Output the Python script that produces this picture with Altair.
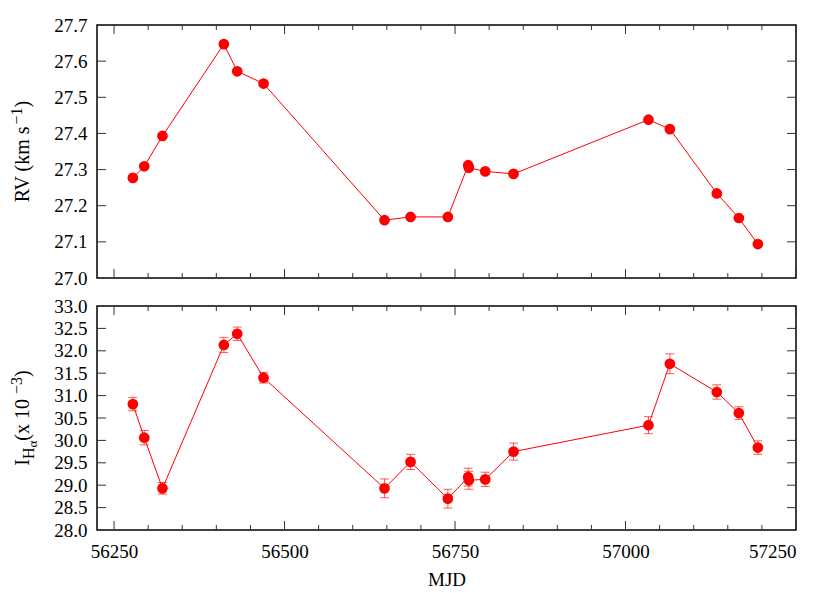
import altair as alt
import pandas as pd

# ---- data ----
mjd = [56277.6, 56294.3, 56321.0, 56411.0, 56430.6, 56469.2, 56646.6, 56684.8, 56739.5,
       56769.3, 56770.3, 56794.3, 56835.8, 57033.7, 57065.0, 57133.9, 57166.2, 57194.1]
rv = [27.277, 27.309, 27.393, 27.647, 27.572, 27.538, 27.160, 27.169, 27.169,
      27.312, 27.305, 27.295, 27.288, 27.438, 27.412, 27.234, 27.166, 27.094]
iha = [30.81, 30.06, 28.93, 32.13, 32.38, 31.40, 28.93, 29.52, 28.70,
       29.18, 29.11, 29.13, 29.75, 30.34, 31.71, 31.08, 30.61, 29.84]
iha_err = [0.15, 0.16, 0.13, 0.17, 0.15, 0.12, 0.21, 0.17, 0.21,
           0.20, 0.20, 0.16, 0.19, 0.19, 0.22, 0.16, 0.14, 0.15]

x_major = [56250, 56500, 56750, 57000, 57250]
x_minor = [56300, 56350, 56400, 56450, 56550, 56600, 56650, 56700, 56800, 56850,
           56900, 56950, 57050, 57100, 57150, 57200]
rv_labels = [27.0, 27.1, 27.2, 27.3, 27.4, 27.5, 27.6, 27.7]
rv_ticks = [27.1, 27.2, 27.3, 27.4, 27.5, 27.6]
iha_labels = [28.0, 28.5, 29.0, 29.5, 30.0, 30.5, 31.0, 31.5, 32.0, 32.5, 33.0]
iha_ticks = [28.5, 29.0, 29.5, 30.0, 30.5, 31.0, 31.5, 32.0, 32.5]

W, H1, H2 = 699, 253, 224
FONT = "Liberation Serif"
TICK = "#333333"
LFS = 19     # tick label font size
TFS = 20     # y title font size

df = pd.DataFrame({"mjd": mjd, "rv": rv, "iha": iha, "err": iha_err})
df["lo"] = df["iha"] - df["err"]
df["hi"] = df["iha"] + df["err"]

xscale = alt.Scale(domain=[56225, 57250], nice=False, zero=False)
yscale1 = alt.Scale(domain=[27.0, 27.7], nice=False, zero=False)
yscale2 = alt.Scale(domain=[28.0, 33.0], nice=False, zero=False)

lab = dict(labelFont=FONT, labelFontSize=LFS, labelColor="black",
           ticks=False, domain=False, grid=False)
ax_y1 = alt.Axis(values=rv_labels, format=".1f", labelPadding=10, title=None, **lab)
ax_y2 = alt.Axis(values=iha_labels, format=".1f", labelPadding=10, title=None, **lab)
ax_x2 = alt.Axis(values=x_major, format="d", labelPadding=12, title="MJD", titlePadding=9,
                 titleFont=FONT, titleFontSize=19, titleColor="black",
                 titleFontWeight="normal", **lab)


def frame_ticks(yscale, yticks, h, ax_x, ax_y):
    maj = pd.DataFrame({"v": x_major})
    mino = pd.DataFrame({"v": x_minor})
    yt = pd.DataFrame({"v": yticks})
    layers = []
    for d, ln in ((maj, 9), (mino, 5)):
        layers.append(alt.Chart(d).mark_rule(color=TICK, strokeWidth=1).encode(
            x=alt.X("v:Q", scale=xscale, axis=ax_x), y=alt.value(0), y2=alt.value(ln)))
        layers.append(alt.Chart(d).mark_rule(color=TICK, strokeWidth=1).encode(
            x=alt.X("v:Q", scale=xscale, axis=ax_x), y=alt.value(h - ln), y2=alt.value(h)))
    layers.append(alt.Chart(yt).mark_rule(color=TICK, strokeWidth=1).encode(
        y=alt.Y("v:Q", scale=yscale, axis=ax_y), x=alt.value(0), x2=alt.value(9)))
    layers.append(alt.Chart(yt).mark_rule(color=TICK, strokeWidth=1).encode(
        y=alt.Y("v:Q", scale=yscale, axis=ax_y), x=alt.value(W - 9), x2=alt.value(W)))
    return layers


# approximate Times/Liberation Serif advance widths (em) for laying out rich titles
ADV = {"R": .667, "V": .722, " ": .25, "(": .333, ")": .333, "k": .5, "m": .778,
       "s": .389, "x": .5, "1": .5, "0": .5, "3": .5, "−": .564, "I": .333,
       "H": .722, "α": .52}


def adv(t, s):
    return sum(ADV.get(c, .5) for c in t) * s


ONE = pd.DataFrame({"k": [0]})
TX = -68  # baseline position of rotated y titles, relative to plot's left edge


def rich_title(pieces, center_y):
    total = sum(adv(t, s) for t, s, _ in pieces)
    y = center_y + total / 2
    out = []
    for t, s, shift in pieces:
        out.append(alt.Chart(ONE).mark_text(
            text=t, angle=270, align="left", baseline="alphabetic",
            font=FONT, fontSize=s, color="black").encode(
            x=alt.value(TX + shift), y=alt.value(y)))
        y -= adv(t, s)
    return out


SUP = round(TFS * 0.8)
rv_title = rich_title([("RV (km s", TFS, 0), ("−1", SUP, -7), (")", TFS, 0)], H1 / 2)
iha_title = rich_title([("I", TFS, 0), ("H", SUP, 5), ("α", round(TFS * 0.64), 8),
                        (" (x 10", TFS, 0), ("−3", SUP, -7), (")", TFS, 0)], H2 / 2)

# ---- top panel: RV ----
base1 = alt.Chart(df)
line1 = base1.mark_line(color="red", strokeWidth=1).encode(
    x=alt.X("mjd:Q", scale=xscale, axis=None),
    y=alt.Y("rv:Q", scale=yscale1, axis=ax_y1),
)
pts1 = base1.mark_circle(size=115, color="red", opacity=1).encode(
    x=alt.X("mjd:Q", scale=xscale, axis=None),
    y=alt.Y("rv:Q", scale=yscale1, axis=ax_y1),
)
top = alt.layer(line1, pts1, *frame_ticks(yscale1, rv_ticks, H1, None, ax_y1),
                *rv_title).properties(width=W, height=H1)

# ---- bottom panel: I_Halpha ----
base2 = alt.Chart(df)
err2 = base2.mark_errorbar(color="red", opacity=0.65, thickness=1, ticks={"size": 9}).encode(
    x=alt.X("mjd:Q", scale=xscale, axis=ax_x2),
    y=alt.Y("lo:Q", scale=yscale2, axis=ax_y2),
    y2="hi:Q",
)
line2 = base2.mark_line(color="red", strokeWidth=1).encode(
    x=alt.X("mjd:Q", scale=xscale, axis=ax_x2),
    y=alt.Y("iha:Q", scale=yscale2, axis=ax_y2),
)
pts2 = base2.mark_circle(size=115, color="red", opacity=1).encode(
    x=alt.X("mjd:Q", scale=xscale, axis=ax_x2),
    y=alt.Y("iha:Q", scale=yscale2, axis=ax_y2),
)

bottom = alt.layer(err2, line2, pts2, *frame_ticks(yscale2, iha_ticks, H2, ax_x2, ax_y2),
                   *iha_title).properties(width=W, height=H2)

chart = alt.vconcat(top, bottom, spacing=7).properties(
    padding={"left": 0, "top": 7, "right": 5, "bottom": 0}
).configure_view(stroke="black", strokeWidth=1.5).configure_axis(
    labelFont=FONT, titleFont=FONT, labelColor="black", titleColor="black"
)

chart.save("out.html", embed_options={"renderer": "svg", "actions": False})
